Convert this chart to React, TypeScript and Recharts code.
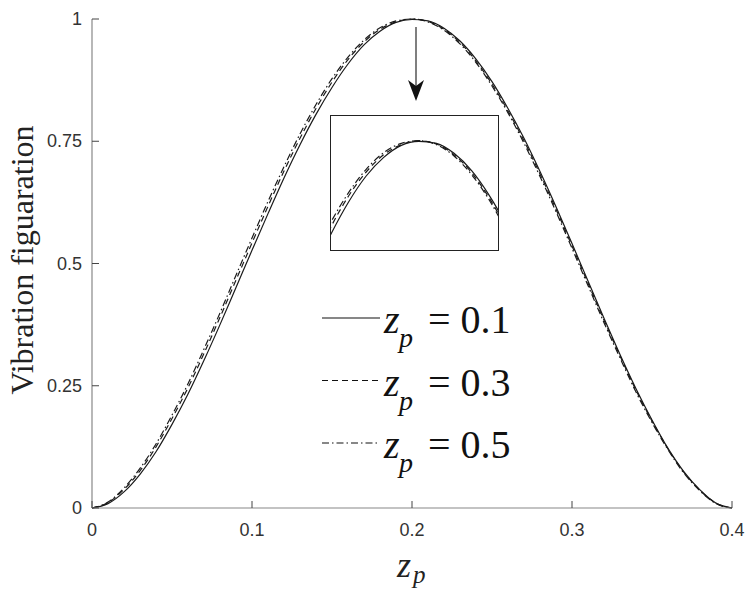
import React from 'react';
import { LineChart, Line, XAxis, YAxis, Legend } from 'recharts';

// z_p positions along the beam
const zpPoints = [
  0, 0.01, 0.02, 0.03, 0.04, 0.05, 0.06, 0.07, 0.08, 0.09, 0.1,
  0.11, 0.12, 0.13, 0.14, 0.15, 0.16, 0.17, 0.18, 0.19, 0.2,
  0.21, 0.22, 0.23, 0.24, 0.25, 0.26, 0.27, 0.28, 0.29, 0.3,
  0.31, 0.32, 0.33, 0.34, 0.35, 0.36, 0.37, 0.38, 0.39, 0.4,
];

// vibration shape, z_p = 0.1 (solid)
const shape01 = [
  0, 0.009, 0.033, 0.069, 0.115, 0.171, 0.233, 0.302, 0.375, 0.451, 0.527,
  0.602, 0.675, 0.743, 0.805, 0.86, 0.908, 0.947, 0.975, 0.993, 0.999,
  0.996, 0.981, 0.955, 0.918, 0.872, 0.817, 0.756, 0.688, 0.616, 0.541,
  0.464, 0.388, 0.314, 0.244, 0.18, 0.122, 0.074, 0.037, 0.01, 0,
];

// z_p = 0.3 (dashed)
const shape03 = [
  0, 0.011, 0.038, 0.076, 0.125, 0.183, 0.246, 0.316, 0.39, 0.466, 0.542,
  0.617, 0.689, 0.756, 0.817, 0.871, 0.917, 0.953, 0.979, 0.994, 1.0,
  0.995, 0.979, 0.952, 0.914, 0.867, 0.812, 0.751, 0.683, 0.611, 0.536,
  0.46, 0.384, 0.311, 0.241, 0.178, 0.121, 0.073, 0.036, 0.01, 0,
];

// z_p = 0.5 (dash-dot)
const shape05 = [
  0, 0.012, 0.041, 0.081, 0.131, 0.19, 0.254, 0.325, 0.399, 0.476, 0.552,
  0.627, 0.698, 0.765, 0.825, 0.878, 0.922, 0.957, 0.982, 0.996, 1.0,
  0.994, 0.977, 0.949, 0.911, 0.863, 0.808, 0.746, 0.678, 0.606, 0.531,
  0.455, 0.379, 0.307, 0.237, 0.175, 0.119, 0.071, 0.035, 0.009, 0,
];

const xTicks = [0, 0.1, 0.2, 0.3, 0.4];
const yTicks = [0, 0.25, 0.5, 0.75, 1];

const series = [
  { key: 'zp01', label: '0.1', dash: undefined as string | undefined },
  { key: 'zp03', label: '0.3', dash: '6 4' },
  { key: 'zp05', label: '0.5', dash: '7 3 1.5 3' },
];

const data = zpPoints.map((z, i) => ({
  z,
  zp01: shape01[i],
  zp03: shape03[i],
  zp05: shape05[i],
}));

const SANS = 'Liberation Sans, Arial, sans-serif';
const SERIF = 'Liberation Serif, Times New Roman, serif';

const XTick = (props: any) => {
  const { x, y, payload } = props;
  return (
    <g>
      <line x1={x} y1={y} x2={x} y2={y - 7} stroke="#444" strokeWidth={1} />
      <text x={x} y={y + 28} textAnchor="middle" fontSize={18} fill="#333" style={{ fontFamily: SANS }}>
        {String(payload.value)}
      </text>
    </g>
  );
};

const YTick = (props: any) => {
  const { x, y, payload } = props;
  return (
    <g>
      <line x1={x} y1={y} x2={x + 7} y2={y} stroke="#444" strokeWidth={1} />
      <text x={x - 10} y={y + 6} textAnchor="end" fontSize={18} fill="#333" style={{ fontFamily: SANS }}>
        {String(payload.value)}
      </text>
    </g>
  );
};

const renderLegend = (props: any) => {
  const items = props.payload || [];
  return (
    <svg width={220} height={200}>
      {items.map((item: any, i: number) => {
        const s = series.find((d) => d.key === item.dataKey) || series[i];
        const ly = 30 + 62.5 * i;
        return (
          <g key={s.key} style={{ fontFamily: SERIF }}>
            <line x1={4} y1={ly} x2={62} y2={ly} stroke="#111" strokeWidth={1.2} strokeDasharray={s.dash} />
            <text x={66} y={ly + 15} fontSize={40} fontStyle="italic" fill="#111">z</text>
            <text x={81} y={ly + 29} fontSize={28} fontStyle="italic" fill="#111">p</text>
            <text x={110} y={ly + 15} fontSize={40} fill="#111">{'= ' + s.label}</text>
          </g>
        );
      })}
    </svg>
  );
};

export default function App() {
  return (
    <div style={{ position: 'absolute', left: 0, top: 0, width: 756, height: 591, background: '#fff' }}>
      <LineChart width={756} height={591} data={data} margin={{ top: 19, right: 24, bottom: 0, left: 0 }}>
        <XAxis
          dataKey="z"
          type="number"
          domain={[0, 0.4]}
          ticks={xTicks}
          interval={0}
          height={83}
          tickSize={0}
          tickMargin={0}
          tickLine={false}
          axisLine={{ stroke: '#888', strokeWidth: 1.2 }}
          tick={<XTick />}
        />
        <YAxis
          type="number"
          domain={[0, 1]}
          ticks={yTicks}
          interval={0}
          width={92}
          tickSize={0}
          tickMargin={0}
          tickLine={false}
          axisLine={{ stroke: '#888', strokeWidth: 1.2 }}
          tick={<YTick />}
        />
        {series.map((s) => (
          <Line
            key={s.key}
            dataKey={s.key}
            type="monotone"
            stroke="#1a1a1a"
            strokeWidth={1.2}
            strokeDasharray={s.dash}
            dot={false}
            activeDot={false}
            isAnimationActive={false}
          />
        ))}
        <Legend
          layout="vertical"
          align="center"
          verticalAlign="middle"
          content={renderLegend}
          wrapperStyle={{ position: 'absolute', left: 318, top: 288, width: 220, height: 200 }}
        />
      </LineChart>

      <svg width={756} height={591} style={{ position: 'absolute', left: 0, top: 0, pointerEvents: 'none', fontFamily: SERIF }}>
        <text transform="translate(33, 260) rotate(-90)" textAnchor="middle" fontSize={32} fill="#222">
          Vibration figuaration
        </text>
        <text x={397} y={577} fontSize={36} fontStyle="italic" fill="#222">z</text>
        <text x={413} y={583} fontSize={25} fontStyle="italic" fill="#222">p</text>
      </svg>

      <div
        style={{
          position: 'absolute',
          left: 330,
          top: 115,
          width: 169,
          height: 136,
          boxSizing: 'border-box',
          border: '1px solid #222',
          background: '#fff',
        }}
      >
        <LineChart width={167} height={134} data={data} margin={{ top: 0, right: 0, bottom: 0, left: 0 }}>
          <XAxis
            dataKey="z"
            type="number"
            domain={[0.15, 0.245]}
            allowDataOverflow
            ticks={[0.2]}
            height={0}
            mirror
            axisLine={false}
            tickSize={3}
            tickLine={{ stroke: '#aaa' }}
            tickFormatter={() => ''}
          />
          <YAxis
            type="number"
            domain={[0.836, 1.037]}
            allowDataOverflow
            ticks={[1]}
            width={0}
            mirror
            axisLine={false}
            tickSize={3}
            tickLine={{ stroke: '#aaa' }}
            tickFormatter={() => ''}
          />
          {series.map((s) => (
            <Line
              key={s.key}
              dataKey={s.key}
              type="monotone"
              stroke="#1a1a1a"
              strokeWidth={1.2}
              strokeDasharray={s.dash}
              dot={false}
              activeDot={false}
              isAnimationActive={false}
            />
          ))}
        </LineChart>
      </div>

      <svg width={756} height={591} style={{ position: 'absolute', left: 0, top: 0, pointerEvents: 'none' }}>
        <line x1={416} y1={27} x2={416} y2={86} stroke="#555" strokeWidth={1.5} />
        <polygon points="408,80 416,86 424,80 416,101" fill="#111" />
      </svg>
    </div>
  );
}
